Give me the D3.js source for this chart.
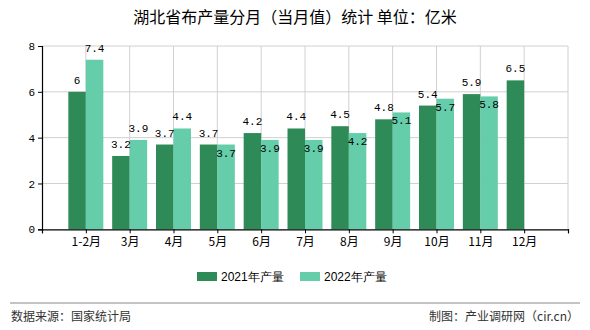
<!DOCTYPE html>
<html><head><meta charset="utf-8">
<script src="https://cdn.jsdelivr.net/npm/d3@7"></script>
<style>
body{margin:0;background:#fff;}
svg{display:block;font-family:"Noto Sans CJK SC","Noto Sans",sans-serif;}
</style></head>
<body><svg id="c" width="590" height="330"></svg>
<script>
const categories = ["1-2月","3月","4月","5月","6月","7月","8月","9月","10月","11月","12月"];
const v2021 = [6,3.2,3.7,3.7,4.2,4.4,4.5,4.8,5.4,5.9,6.5];
const v2022 = [7.4,3.9,4.4,3.7,3.9,3.9,4.2,5.1,5.7,5.8,null];
const seriesNames = ["2021年产量","2022年产量"];
const yTicks = [0,2,4,6,8];
const colors = ["#2E8B57","#66CDAA"];

(function(){
const svg = d3.select("#c");
const pL=42, pR=568, pT=46, pB=229.3;
const x = d3.scalePoint().domain(["_a", ...categories, "_b"]).range([pL,pR]);
const y = d3.scaleLinear().domain([0,8]).range([pB,pT]);
const bw = 17.5;

// title
svg.append("text").attr("x",295).attr("y",23).attr("text-anchor","middle")
  .attr("font-size",16).attr("fill","#000").text("湖北省布产量分月（当月值）统计 单位：亿米");

// grid
const g = svg.append("g");
g.selectAll("line.h").data(yTicks.filter(d=>d>0)).join("line").attr("class","h")
  .attr("x1",pL).attr("x2",pR).attr("y1",d=>y(d)).attr("y2",d=>y(d))
  .attr("stroke","#d0d0d0").attr("stroke-width",1);
g.selectAll("line.v").data([...categories,"_b"]).join("line").attr("class","v")
  .attr("x1",d=>x(d)).attr("x2",d=>x(d)).attr("y1",pT).attr("y2",pB)
  .attr("stroke","#d0d0d0").attr("stroke-width",1);

// bars
const series = [v2021, v2022];
series.forEach((vals,si)=>{
  svg.append("g").selectAll("rect").data(categories.map((c,i)=>({c,v:vals[i],i})).filter(d=>d.v!=null))
    .join("rect")
    .attr("x",d=>x(d.c)+(si===0?-bw:0)).attr("width",bw)
    .attr("y",d=>y(d.v)).attr("height",d=>pB-y(d.v))
    .attr("fill",colors[si]);
});

// labels
series.forEach((vals,si)=>{
  svg.append("g").selectAll("text").data(categories.map((c,i)=>({c,v:vals[i],i})).filter(d=>d.v!=null))
    .join("text")
    .attr("x",d=>x(d.c)+(si===0?-bw/2:bw/2))
    .attr("y",d=>(si===1 && d.i>=3) ? y(d.v)+12 : y(d.v)-8)
    .attr("text-anchor","middle").attr("font-size",11)
    .attr("font-family","'Liberation Mono','DejaVu Sans Mono',monospace")
    .attr("fill","#000").text(d=>d.v);
});

// axes
const xa = svg.append("g").attr("transform",`translate(0,${pB})`)
  .call(d3.axisBottom(x).tickSize(4).tickFormat(d=>d.startsWith("_")?"":d));
xa.select(".domain").attr("stroke","#000").attr("stroke-width",1.2);
xa.selectAll(".tick line").attr("stroke","#000");
xa.selectAll("text").attr("font-size",12).attr("fill","#000").attr("dy","0.85em")
  .attr("font-family","'Noto Sans CJK SC',sans-serif");

const ya = svg.append("g").attr("transform",`translate(${pL},0)`)
  .call(d3.axisLeft(y).tickValues(yTicks).tickSize(4).tickFormat(d3.format("d")));
ya.select(".domain").attr("stroke","#000").attr("stroke-width",1.2);
ya.selectAll(".tick line").attr("stroke","#000");
ya.selectAll("text").attr("font-size",11).attr("fill","#000")
  .attr("font-family","'Liberation Mono','DejaVu Sans Mono',monospace");

// legend
const lx = [197,300];
seriesNames.forEach((n,i)=>{
  svg.append("rect").attr("x",lx[i]).attr("y",272).attr("width",20).attr("height",9).attr("fill",colors[i]);
  svg.append("text").attr("x",lx[i]+24).attr("y",281).attr("font-size",12)
    .attr("font-family","'Liberation Sans',Arial,sans-serif").attr("fill","#000").text(n);
});

// footer
svg.append("line").attr("x1",10).attr("x2",580).attr("y1",303).attr("y2",303)
  .attr("stroke","#888").attr("stroke-width",1);
svg.append("text").attr("x",11).attr("y",321).attr("font-size",12).attr("fill","#333")
  .text("数据来源：国家统计局");
svg.append("text").attr("x",579).attr("y",321).attr("font-size",12).attr("fill","#333")
  .attr("text-anchor","end").text("制图：产业调研网（cir.cn）");
})();
</script></body></html>
